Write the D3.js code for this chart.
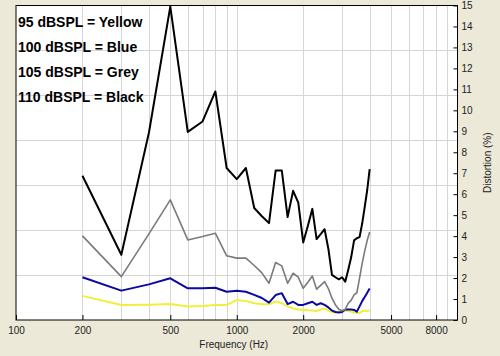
<!DOCTYPE html>
<html>
<head>
<meta charset="utf-8">
<script src="https://cdn.jsdelivr.net/npm/d3@7"></script>
<style>
  html, body { margin: 0; padding: 0; background: #ECE9D8; }
  svg { display: block; }
  .tick text { font-family: "Liberation Sans", Arial, sans-serif; font-size: 10px; fill: #222; }
</style>
</head>
<body>
<svg id="chart" width="500" height="356"></svg>
<script>
// ---------- data ----------
const frequencies = [200, 300, 400, 500, 600, 700, 800, 900,
  1000, 1100, 1200, 1300, 1400, 1500, 1600, 1700, 1800, 1900,
  2000, 2100, 2200, 2300, 2400, 2500, 2600, 2700, 2800, 2900,
  3000, 3100, 3200, 3300, 3400, 3500, 3600, 3700, 3800, 3900, 4000];

const yellow95 = [1.15, 0.72, 0.73, 0.76, 0.64, 0.67, 0.72, 0.72,
  0.95, 0.9, 0.8, 0.75, 0.75, 0.88, 0.8, 0.65, 0.55, 0.5,
  0.48, 0.46, 0.45, 0.42, 0.5, 0.55, 0.45, 0.38, 0.35, 0.4,
  0.42, 0.44, 0.44, 0.4, 0.36, 0.35, 0.33, 0.42, 0.44, 0.44, 0.45];

const blue100 = [2.04, 1.40, 1.70, 1.99, 1.51, 1.52, 1.54, 1.35,
  1.40, 1.35, 1.20, 1.05, 0.83, 1.19, 1.28, 0.76, 0.87, 0.72,
  0.72, 0.80, 0.87, 0.72, 0.80, 0.72, 0.60, 0.45, 0.38, 0.36,
  0.38, 0.50, 0.50, 0.50, 0.48, 0.40, 0.65, 0.90, 1.10, 1.30, 1.50];

const grey105 = [4.01, 2.07, 4.11, 5.73, 3.82, 3.98, 4.14, 3.06,
  2.95, 2.95, 2.60, 2.25, 1.75, 2.74, 2.58, 1.75, 2.23, 2.04,
  1.51, 1.80, 2.10, 1.47, 1.65, 1.83, 1.50, 1.04, 0.72, 0.51,
  0.44, 0.50, 0.80, 0.95, 1.20, 1.30, 2.00, 2.70, 3.30, 3.80, 4.20];

const black110 = [6.88, 3.11, 8.93, 14.95, 8.97, 9.47, 10.90, 7.25,
  6.72, 7.25, 5.34, 4.95, 4.62, 7.13, 7.13, 4.91, 6.16, 5.60,
  3.70, 4.50, 5.30, 3.86, 4.10, 4.33, 3.40, 2.15, 2.04, 1.94,
  2.04, 1.83, 2.40, 3.00, 3.80, 3.90, 3.95, 4.60, 5.40, 6.20, 7.20];

const seriesNames = ["95 dBSPL", "100 dBSPL", "105 dBSPL", "110 dBSPL"];
const colorNames = ["Yellow", "Blue", "Grey", "Black"];

const xTickValues = [100, 200, 500, 1000, 2000, 5000, 8000];
const xGridValues = [200, 300, 400, 500, 600, 700, 800, 900,
  1000, 2000, 3000, 4000, 5000, 6000, 7000, 8000, 9000];
const yTickValues = [0, 1, 2, 3, 4, 5, 6, 7, 8, 9, 10, 11, 12, 13, 14, 15];
const yGridValues = [15/7, 30/7, 45/7, 60/7, 75/7, 90/7];

const xLabel = "Frequency (Hz)";
const yLabel = "Distortion (%)";

// ---------- layout ----------
const L = 16, R = 457.5, T = 5.5, B = 320;
const svg = d3.select("#chart");

const x = d3.scaleLog().domain([100, 10000]).range([L, R]);
const y = d3.scaleLinear().domain([0, 15]).range([B, T]);

// plot background
svg.append("rect").attr("x", L).attr("y", T).attr("width", R - L).attr("height", B - T)
  .attr("fill", "#ffffff");

// grid
const grid = svg.append("g").attr("stroke", "#d6d6d6").attr("stroke-width", 1);
grid.selectAll("line.v").data(xGridValues).join("line").attr("class", "v")
  .attr("x1", d => Math.round(x(d)) + 0.5).attr("x2", d => Math.round(x(d)) + 0.5)
  .attr("y1", T).attr("y2", B);
grid.selectAll("line.h").data(yGridValues).join("line").attr("class", "h")
  .attr("x1", L).attr("x2", R)
  .attr("y1", d => Math.round(y(d)) + 0.5).attr("y2", d => Math.round(y(d)) + 0.5);

// series
const series = [
  { values: yellow95, color: "#f0f03a", width: 2 },
  { values: blue100, color: "#0a0aa0", width: 2 },
  { values: grey105, color: "#7a7a7a", width: 1.6 },
  { values: black110, color: "#000000", width: 2 }
];
const line = d3.line().x((d, i) => x(frequencies[i])).y(d => y(d));
svg.append("g").selectAll("path").data(series).join("path")
  .attr("d", s => line(s.values))
  .attr("fill", "none")
  .attr("stroke", s => s.color)
  .attr("stroke-width", s => s.width)
  .attr("stroke-linejoin", "round");

// frame
svg.append("rect").attr("x", L).attr("y", T).attr("width", R - L).attr("height", B - T)
  .attr("fill", "none").attr("stroke", "#000").attr("stroke-width", 1);

// axes
const xAxis = d3.axisBottom(x).tickValues(xTickValues).tickFormat(d3.format("d"))
  .tickSize(-5).tickPadding(7);
svg.append("g").attr("transform", `translate(0,${B})`).call(xAxis)
  .call(g => g.select(".domain").remove())
  .call(g => g.selectAll(".tick line").attr("stroke", "#000"));

const yAxis = d3.axisRight(y).tickValues(yTickValues).tickSize(-4).tickPadding(4);
svg.append("g").attr("transform", `translate(${R},0)`).call(yAxis)
  .call(g => g.select(".domain").remove())
  .call(g => g.selectAll(".tick line").attr("stroke", "#000"));

// axis titles
svg.append("text").attr("x", (L + R) / 2 - 3).attr("y", 348)
  .attr("text-anchor", "middle")
  .attr("font-family", "Liberation Sans, Arial, sans-serif").attr("font-size", 10).attr("fill", "#222")
  .text(xLabel);
svg.append("text")
  .attr("transform", `translate(491,${(T + B) / 2}) rotate(-90)`)
  .attr("text-anchor", "middle")
  .attr("font-family", "Liberation Sans, Arial, sans-serif").attr("font-size", 10).attr("fill", "#222")
  .text(yLabel);

// legend text
svg.append("g").selectAll("text").data(seriesNames).join("text")
  .attr("x", 18).attr("y", (d, i) => 27 + i * 25)
  .attr("font-family", "Liberation Sans, Arial, sans-serif")
  .attr("font-weight", "bold").attr("font-size", 14).attr("fill", "#000")
  .text((d, i) => `${d} = ${colorNames[i]}`);
</script>
</body>
</html>
